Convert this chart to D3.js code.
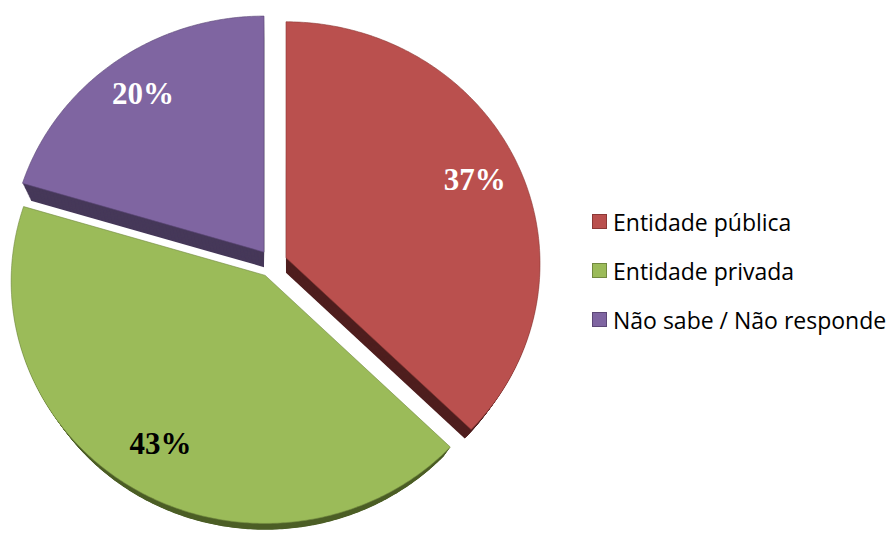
<!DOCTYPE html>
<html>
<head>
<meta charset="utf-8">
<script src="https://cdn.jsdelivr.net/npm/d3@7"></script>
<style>
  body { margin: 0; background: #fff; }
</style>
</head>
<body>
<div id="chart"></div>
<script>
// Chart data
var categories = ["Entidade pública", "Entidade privada", "Não sabe / Não responde"];
var shares = [37, 43, 20];
var shareLabels = ["37%", "43%", "20%"];

var width = 891, height = 536;

// Pie geometry (tilted, exploded)
var cx = 272.6, cy = 263.4;   // centre of the unexploded pie
var radius = 254;             // horizontal radius
var tilt = 0.953;             // vertical squash of the tilted disc
var persp = 6;                // near rim pushed down a bit (fake perspective)
var explode = 14.6;           // distance each slice is pulled out
var depth = 15;               // thickness at the apex
var shrink = 0.965;           // bottom face a bit smaller

var topColors = ["#BA504E", "#9BBB59", "#7F65A1"];
var sideColors = ["#4F1F1F", "#4D5F27", "#463859"];
var edgeColors = ["#8C3836", "#71893F", "#5C4776"];
var labelColors = ["#fff", "#000", "#fff"];

var svg = d3.select("#chart")
    .append("svg")
    .attr("width", width)
    .attr("height", height);

var pie = d3.pie().sort(null).value(function (d) { return d; });
var slices = pie(shares);

// project a point of the disc (radius r, angle a clockwise from 12 o'clock)
function project(r, a) {
    return [r * Math.sin(a), -tilt * r * Math.cos(a) + persp * r / radius];
}

var line = d3.line();

function slicePath(d, sc) {
    var pts = [[0, 0]];
    var n = Math.max(2, Math.ceil((d.endAngle - d.startAngle) / 0.01));
    d3.range(n + 1).forEach(function (j) {
        var a = d.startAngle + (d.endAngle - d.startAngle) * j / n;
        pts.push(project(radius * sc, a));
    });
    return line(pts) + "Z";
}

function apexOf(d) {
    var mid = (d.startAngle + d.endAngle) / 2;
    return [cx + explode * Math.sin(mid), cy - explode * Math.cos(mid) * tilt];
}

// back to front: purple, red, green
var order = [2, 0, 1];
var steps = 16;

order.forEach(function (i) {
    var d = slices[i];
    var p = apexOf(d);
    var g = svg.append("g");

    // side walls: stack copies from the bottom face up
    for (var s = steps; s >= 1; s--) {
        var t = s / steps;
        var sc = 1 - t * (1 - shrink);
        g.append("path")
            .attr("d", slicePath(d, sc))
            .attr("transform", "translate(" + p[0] + "," + (p[1] + t * depth) + ")")
            .attr("fill", sideColors[i]);
    }

    // top face
    g.append("path")
        .attr("d", slicePath(d, 1))
        .attr("transform", "translate(" + p[0] + "," + p[1] + ")")
        .attr("fill", topColors[i])
        .attr("stroke", edgeColors[i])
        .attr("stroke-opacity", 0.6)
        .attr("stroke-width", 1);
});

// percentage labels
slices.forEach(function (d, i) {
    var p = apexOf(d);
    var mid = (d.startAngle + d.endAngle) / 2;
    var c = project(radius * 0.81, mid);
    svg.append("text")
        .attr("x", p[0] + c[0])
        .attr("y", p[1] + c[1])
        .attr("dy", "0.17em")
        .attr("text-anchor", "middle")
        .style("font-family", "'Liberation Serif', 'Times New Roman', serif")
        .style("font-weight", "bold")
        .style("font-size", "31px")
        .style("fill", labelColors[i])
        .text(shareLabels[i]);
});

// legend
var legend = svg.append("g").attr("transform", "translate(592,214)");

categories.forEach(function (name, i) {
    var row = legend.append("g").attr("transform", "translate(0," + (i * 49) + ")");
    row.append("rect")
        .attr("x", 0.5)
        .attr("y", 0.5)
        .attr("width", 14)
        .attr("height", 14)
        .attr("fill", topColors[i])
        .attr("stroke", edgeColors[i])
        .attr("stroke-width", 1);
    row.append("text")
        .attr("x", 21)
        .attr("y", 16.5)
        .style("font-family", "'Open Sans', sans-serif")
        .style("font-size", "23px")
        .style("fill", "#000")
        .text(name);
});
</script>
</body>
</html>
